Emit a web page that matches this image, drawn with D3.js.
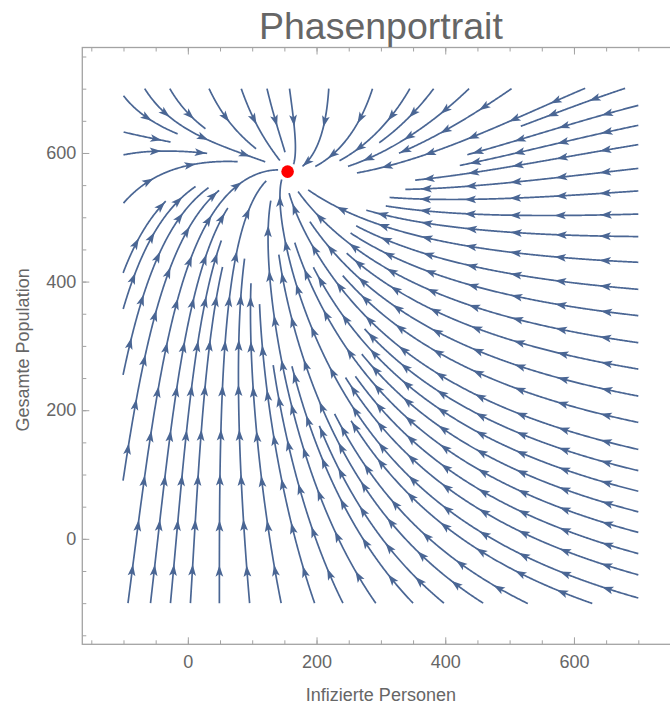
<!DOCTYPE html>
<html><head><meta charset="utf-8">
<script src="https://cdn.jsdelivr.net/npm/d3@7"></script>
<style>body{margin:0;background:#fff;} svg{display:block;font-family:"Liberation Sans",Arial,sans-serif;}</style>
</head><body><svg id="c" width="670" height="706"></svg>
<script>
// ---------- chart content ----------
const titleText = "Phasenportrait";
const xLabelText = "Infizierte Personen";
const yLabelText = "Gesamte Population";
const xDomain = [-164, 764];
const yDomain = [-164, 764];
const streamRangeI = [-100, 700];
const streamRangeN = [-100, 700];
const xMajorTicks = [0, 200, 400, 600];
const yMajorTicks = [0, 200, 400, 600];
const minorTicks = [-150,-100,-50,0,50,100,150,200,250,300,350,400,450,500,550,600,650,700,750];
const fixedPoint = [155, 571];
// seed points of the stream lines (where lines enter the region)
const seedsBottomI = [-93,-58,-27,4,49,96,145,197,241,292,350,398,459,527,627];
const seedsRightN = [-92,-56,-23,10,42,74,106,139,181,222,264,305,347,388,430,470,505,541,576,613,643,674];
const seedsLeftN = [-25,95,149,258,359,415,522,597,689];
const seedsTopI = [-67,-28,33,83,123,158,219,287,345,382,437,503,616,678];
// vector-field model parameters (nullclines through the equilibrium)
const iNullAtBottom = 49, iNullRise = 106, iNullExp = 2;
const nNullAtEq = 571, nNullSlope = -0.17;
const rateI = 2.2, shiftI = 300, shiftN = 800;

// ---------- layout ----------
const svg = d3.select("#c");
const x = d3.scaleLinear().domain(xDomain).range([82.3, 679.5]);
const y = d3.scaleLinear().domain(yDomain).range([644.3, 47.5]);
const frameCol = "#a3a3a3", textCol = "#666666", lineCol = "#4a6694";
const fontFam = '"Liberation Sans",Arial,sans-serif';

function field(I, N) {
  const t = Math.max(0, (N - streamRangeN[0]) / (fixedPoint[1] - streamRangeN[0]));
  const Ic = iNullAtBottom + iNullRise * Math.pow(t, iNullExp);
  const Nc = nNullAtEq + nNullSlope * (I - fixedPoint[0]);
  const f = -rateI * (I - Ic) * (I + shiftI);
  let g = (N + shiftN) * (Nc - N);
  if (N > Nc) g *= 1 + (N - Nc) / 150 * Math.max(0, 1 - (I + 100) / 800);
  return [f, g];
}

// screen-space direction
function dirAt(px, py) {
  const [f, g] = field(x.invert(px), y.invert(py));
  const dx = f, dy = -g;
  const m = Math.hypot(dx, dy);
  if (m < 1e-9) return null;
  return [dx / m, dy / m];
}
const X0 = x(streamRangeI[0]) - 0.5, X1 = x(streamRangeI[1]) + 0.5;
const Y0 = y(streamRangeN[1]) - 0.5, Y1 = y(streamRangeN[0]) + 0.5;
const inside = (px, py) => px >= X0 && px <= X1 && py >= Y0 && py <= Y1;
const fpx = x(fixedPoint[0]), fpy = y(fixedPoint[1]);

const dsep = 22, dtest = 9, step = 1;
const grid = new Map();
const key = (cx, cy) => cx + "," + cy;
function addPts(pts, id) {
  for (const p of pts) {
    const k = key(Math.floor(p[0] / dsep), Math.floor(p[1] / dsep));
    if (!grid.has(k)) grid.set(k, []);
    grid.get(k).push([p[0], p[1], id]);
  }
}
function minDist(px, py, id) {
  const cx = Math.floor(px / dsep), cy = Math.floor(py / dsep);
  let best = Infinity;
  for (let i = -1; i <= 1; i++) for (let j = -1; j <= 1; j++) {
    const a = grid.get(key(cx + i, cy + j));
    if (!a) continue;
    for (const q of a) {
      if (q[2] === id) continue;
      const d = Math.hypot(q[0] - px, q[1] - py);
      if (d < best) best = d;
    }
  }
  return best;
}
function trace(x0, y0, dir, id) {
  const pts = [];
  let px = x0, py = y0;
  for (let i = 0; i < 3000; i++) {
    const v1 = dirAt(px, py); if (!v1) break;
    const v2 = dirAt(px + dir * v1[0] * step * 0.5, py + dir * v1[1] * step * 0.5); if (!v2) break;
    if (v1[0] * v2[0] + v1[1] * v2[1] < 0.5) break;
    const nx = px + dir * v2[0] * step, ny = py + dir * v2[1] * step;
    if (!inside(nx, ny)) break;
    if (Math.hypot(nx - fpx, ny - fpy) < 9) break;
    if (minDist(nx, ny, id) < dtest) break;
    px = nx; py = ny; pts.push([px, py]);
  }
  return pts;
}
const lines = [];
function makeLine(sx, sy, minSep) {
  if (!inside(sx, sy)) return null;
  if (minDist(sx, sy, -1) < minSep) return null;
  const id = lines.length;
  const back = trace(sx, sy, -1, id).reverse();
  const fwd = trace(sx, sy, 1, id);
  const pts = back.concat([[sx, sy]], fwd);
  if (pts.length < 12) return null;
  addPts(pts, id);
  lines.push(pts);
  return pts;
}
// boundary seeds
seedsRightN.forEach(n => makeLine(x(streamRangeI[1]), y(n), dtest * 1.2));
seedsBottomI.forEach(i => makeLine(x(i), y(streamRangeN[0]), dtest * 1.2));
seedsTopI.forEach(i => makeLine(x(i), y(streamRangeN[1]), dtest * 1.2));
seedsLeftN.forEach(n => makeLine(x(streamRangeI[0]), y(n), dtest * 1.2));
// fill gaps (evenly spaced streamlines)
for (let li = 0; li < lines.length && li < 400; li++) {
  const pts = lines[li];
  for (let k = 5; k < pts.length - 5; k += 10) {
    const p = pts[k], q = pts[k + 1], r = pts[k - 1];
    const tx = q[0] - r[0], ty = q[1] - r[1], tm = Math.hypot(tx, ty) || 1;
    const nxv = -ty / tm, nyv = tx / tm;
    for (const s of [1, -1]) {
      makeLine(p[0] + s * nxv * dsep, p[1] + s * nyv * dsep, dsep * 0.95);
    }
  }
}

// ---------- draw ----------
const plot = svg.append("g");
const lineGen = d3.line();
const arrowFirst = 38, arrowGap = 45, aLen = 11.5, aHalf = 3.9, aNotch = 2.6;
const arrows = [];
lines.forEach(pts => {
  const cum = [0];
  for (let i = 1; i < pts.length; i++) cum.push(cum[i - 1] + Math.hypot(pts[i][0] - pts[i - 1][0], pts[i][1] - pts[i - 1][1]));
  const L = cum[cum.length - 1];
  const pos = [];
  if (L < arrowFirst) pos.push(L); else for (let s = arrowFirst; s <= L; s += arrowGap) pos.push(s);
  let j = 0;
  pos.forEach(s => {
    while (j < cum.length - 1 && cum[j] < s) j++;
    const a = pts[Math.max(0, j - 3)], b = pts[j];
    const tx = b[0] - a[0], ty = b[1] - a[1], tm = Math.hypot(tx, ty) || 1;
    arrows.push({x: b[0], y: b[1], ux: tx / tm, uy: ty / tm});
  });
});
plot.selectAll("path.s").data(lines).join("path").attr("class", "s")
  .attr("d", lineGen).attr("fill", "none").attr("stroke", lineCol)
  .attr("stroke-width", 1.7).attr("stroke-linecap", "butt").attr("stroke-linejoin", "round");
plot.selectAll("path.a").data(arrows).join("path").attr("class", "a")
  .attr("d", a => {
    const bx = a.x - a.ux * aLen, by = a.y - a.uy * aLen;
    const nx = -a.uy, ny = a.ux;
    const cx = a.x - a.ux * (aLen - aNotch), cy = a.y - a.uy * (aLen - aNotch);
    return `M${a.x},${a.y}L${bx + nx * aHalf},${by + ny * aHalf}L${cx},${cy}L${bx - nx * aHalf},${by - ny * aHalf}Z`;
  }).attr("fill", lineCol);

// equilibrium point
svg.append("circle").attr("cx", fpx).attr("cy", fpy).attr("r", 6.3).attr("fill", "#ff0000");

// frame and ticks
function styleAxis(g) {
  g.select(".domain").remove();
  g.selectAll(".tick line").attr("stroke", frameCol).attr("stroke-width", 1);
  g.selectAll(".tick text").attr("fill", textCol).style("font-size", "18px").style("font-family", fontFam);
}
const yb = y.range()[0], yt = y.range()[1], xl = x.range()[0], xr = x.range()[1];
svg.append("g").attr("transform", `translate(0,${yb})`).call(d3.axisBottom(x).tickValues(minorTicks).tickFormat("").tickSize(-4)).call(styleAxis);
svg.append("g").attr("transform", `translate(0,${yb})`).call(d3.axisBottom(x).tickValues(xMajorTicks).tickFormat(d3.format("d")).tickSize(-7).tickPadding(11)).call(styleAxis);
svg.append("g").attr("transform", `translate(0,${yt})`).call(d3.axisTop(x).tickValues(minorTicks).tickFormat("").tickSize(-4)).call(styleAxis);
svg.append("g").attr("transform", `translate(0,${yt})`).call(d3.axisTop(x).tickValues(xMajorTicks).tickFormat("").tickSize(-7)).call(styleAxis);
svg.append("g").attr("transform", `translate(${xl},0)`).call(d3.axisLeft(y).tickValues(minorTicks).tickFormat("").tickSize(-4)).call(styleAxis);
svg.append("g").attr("transform", `translate(${xl},0)`).call(d3.axisLeft(y).tickValues(yMajorTicks).tickFormat(d3.format("d")).tickSize(-7).tickPadding(6)).call(styleAxis);
svg.append("g").attr("transform", `translate(${xr},0)`).call(d3.axisRight(y).tickValues(minorTicks).tickFormat("").tickSize(-4)).call(styleAxis);
svg.append("g").attr("transform", `translate(${xr},0)`).call(d3.axisRight(y).tickValues(yMajorTicks).tickFormat("").tickSize(-7)).call(styleAxis);
svg.append("rect").attr("x", xl).attr("y", yt).attr("width", xr - xl).attr("height", yb - yt)
  .attr("fill", "none").attr("stroke", frameCol).attr("stroke-width", 1.3);

// texts
svg.append("text").attr("x", (xl + xr) / 2).attr("y", 39).attr("text-anchor", "middle")
  .attr("fill", textCol).style("font-size", "37.5px").text(titleText);
svg.append("text").attr("x", (xl + xr) / 2).attr("y", 701).attr("text-anchor", "middle")
  .attr("fill", textCol).style("font-size", "18px").text(xLabelText);
svg.append("text").attr("transform", `translate(29,${(yt + yb) / 2 + 4}) rotate(-90)`).attr("text-anchor", "middle")
  .attr("fill", textCol).style("font-size", "18px").text(yLabelText);
</script></body></html>
